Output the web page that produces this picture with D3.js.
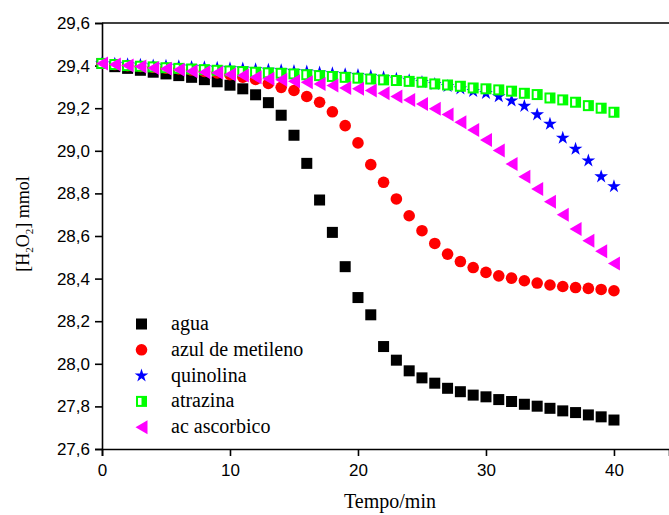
<!DOCTYPE html>
<html><head><meta charset="utf-8">
<script src="https://cdn.jsdelivr.net/npm/d3@7"></script>
<style>body{margin:0;background:#fff}svg{display:block}.serif{font-family:'Liberation Serif','Times New Roman',serif}</style>
</head><body>
<script>
const time = [0,1,2,3,4,5,6,7,8,9,10,11,12,13,14,15,16,17,18,19,20,21,22,23,24,25,26,27,28,29,30,31,32,33,34,35,36,37,38,39,40];
const agua = [29.41,29.395,29.387,29.378,29.369,29.361,29.353,29.345,29.334,29.324,29.308,29.291,29.263,29.226,29.167,29.073,28.941,28.769,28.617,28.456,28.311,28.230,28.081,28.017,27.967,27.934,27.909,27.885,27.869,27.853,27.845,27.832,27.823,27.810,27.801,27.791,27.779,27.771,27.760,27.751,27.736];
const azul = [29.41,29.405,29.40,29.396,29.392,29.388,29.384,29.379,29.373,29.366,29.357,29.346,29.335,29.316,29.298,29.283,29.255,29.228,29.183,29.118,29.037,28.935,28.852,28.774,28.695,28.625,28.565,28.515,28.480,28.452,28.429,28.413,28.402,28.390,28.379,28.370,28.363,28.358,28.354,28.349,28.343];
const quinolina = [29.41,29.408,29.405,29.403,29.40,29.398,29.396,29.393,29.391,29.389,29.387,29.385,29.382,29.38,29.377,29.374,29.371,29.367,29.363,29.359,29.355,29.35,29.344,29.337,29.33,29.322,29.313,29.303,29.292,29.28,29.27,29.255,29.235,29.21,29.17,29.126,29.06,29.009,28.954,28.879,28.833];
const atrazina = [29.41,29.405,29.40,29.397,29.394,29.39,29.387,29.384,29.381,29.378,29.375,29.372,29.369,29.366,29.364,29.361,29.357,29.353,29.349,29.345,29.341,29.337,29.333,29.330,29.326,29.322,29.314,29.309,29.303,29.295,29.291,29.286,29.280,29.270,29.264,29.248,29.239,29.228,29.212,29.200,29.181];
const ascorbico = [29.41,29.405,29.40,29.396,29.389,29.385,29.38,29.373,29.369,29.366,29.358,29.353,29.345,29.338,29.333,29.326,29.322,29.314,29.306,29.295,29.291,29.283,29.270,29.255,29.239,29.220,29.197,29.170,29.134,29.098,29.051,29.001,28.938,28.878,28.821,28.761,28.700,28.633,28.578,28.528,28.471];
const seriesNames = ["agua","azul de metileno","quinolina","atrazina","ac ascorbico"];
const xTicks = [0,10,20,30,40];
const yTicks = [27.6,27.8,28.0,28.2,28.4,28.6,28.8,29.0,29.2,29.4,29.6];

const W = 669, H = 515;
const svg = d3.select("body").append("svg").attr("width", W).attr("height", H);
const x = d3.scaleLinear().domain([0, 44.3]).range([102, 669]);
const y = d3.scaleLinear().domain([27.6, 29.6]).range([449, 23]);
const loc = d3.formatLocale({decimal: ",", thousands: ".", grouping: [3], currency: ["", ""]});
const fmt = loc.format(".1f");

// axes
const gx = svg.append("g").attr("transform", `translate(0,${y(27.6)})`)
  .call(d3.axisBottom(x).tickValues(xTicks).tickFormat(d3.format("d")).tickSizeOuter(0).tickSize(7).tickPadding(8));
const gy = svg.append("g").attr("transform", `translate(${x(0)},0)`)
  .call(d3.axisLeft(y).tickValues(yTicks).tickFormat(fmt).tickSizeOuter(0).tickSize(7).tickPadding(5));
[gx, gy].forEach(g => {
  g.attr("font-family", null).attr("font-size", null);
  g.selectAll("path.domain").attr("stroke", "#000").attr("stroke-width", 1.6);
  g.selectAll(".tick line").attr("stroke", "#000").attr("stroke-width", 1.6);
  g.selectAll(".tick text").attr("fill", "#000").style("font-family", "'Liberation Sans', Arial, sans-serif").style("font-size", "17px");
});
// top frame
svg.append("line").attr("x1", x(0)).attr("x2", x(44.3)).attr("y1", y(29.6)).attr("y2", y(29.6))
  .attr("stroke", "#000").attr("stroke-width", 1.6);

// titles
svg.append("text").attr("class", "serif").attr("x", 390).attr("y", 508).attr("text-anchor", "middle")
  .style("font-size", "20px").text("Tempo/min");
const yt = svg.append("text").attr("class", "serif").attr("transform", "translate(29,224) rotate(-90)").attr("text-anchor", "middle")
  .style("font-size", "18px");
yt.append("tspan").text("[H");
yt.append("tspan").attr("dy", 4).style("font-size", "11px").text("2");
yt.append("tspan").attr("dy", -4).text("O");
yt.append("tspan").attr("dy", 4).style("font-size", "11px").text("2");
yt.append("tspan").attr("dy", -4).text("] mmol");

// marker drawers
function drawSquare(g) { g.append("rect").attr("x", -5.5).attr("y", -5.5).attr("width", 11).attr("height", 11).attr("fill", "#000"); }
function drawCircle(g) { g.append("circle").attr("r", 5.8).attr("fill", "#ff0000"); }
const starPath = d3.symbol().type(d3.symbolStar).size(58)();
function drawStar(g) { g.append("path").attr("d", starPath).attr("fill", "#0000ff"); }
function drawHalf(g) {
  g.append("rect").attr("x", -5.5).attr("y", -5.5).attr("width", 11).attr("height", 11).attr("fill", "#00ff00");
  g.append("rect").attr("x", -3.5).attr("y", -3.5).attr("width", 3.5).attr("height", 7).attr("fill", "#fff");
}
function drawTri(g) { g.append("path").attr("d", "M-6,0L6,-7L6,7Z").attr("fill", "#ff00ff"); }

const series = [
  {name: seriesNames[0], values: agua, draw: drawSquare},
  {name: seriesNames[1], values: azul, draw: drawCircle},
  {name: seriesNames[2], values: quinolina, draw: drawStar},
  {name: seriesNames[3], values: atrazina, draw: drawHalf},
  {name: seriesNames[4], values: ascorbico, draw: drawTri}
];

series.forEach(s => {
  const g = svg.append("g");
  g.selectAll("g").data(time).join("g")
    .attr("transform", (t, i) => `translate(${x(t)},${y(s.values[i])})`)
    .each(function() { s.draw(d3.select(this)); });
});

// legend
const leg = svg.append("g");
series.forEach((s, i) => {
  const row = leg.append("g").attr("transform", `translate(141.5,${324 + i * 25.8})`);
  s.draw(row);
  row.append("text").attr("class", "serif").attr("x", 29.5).attr("y", 6)
    .attr("font-family", "Liberation Serif, serif")
    .style("font-size", "20px").text(s.name);
});
</script>
</body></html>
